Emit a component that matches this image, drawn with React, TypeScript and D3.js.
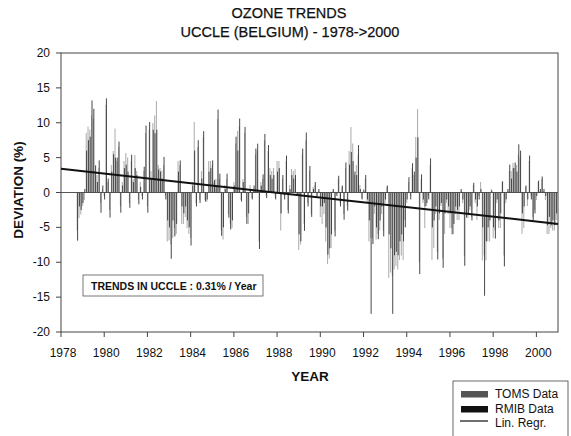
import React from 'react';
import * as d3 from 'd3';

// monthly deviations (%), first value = Oct 1978
const START = 1978.75;

const rmib = [
  -6.9, -2.0, -2.5,
  -1.5, 0.5, 6.0, 7.5, 8.0, 13.2, 12.0, 3.9, 1.5, 4.6, -2.9, 1.0,
  -1.0, 13.5, 2.0, -3.6, 3.0, 5.5, 5.0, 5.0, 7.3, -2.9, 1.0, 3.5,
  4.0, 3.0, -2.2, 5.4, 1.5, 3.5, 2.5, -1.7, 0.8, -1.0, 3.7, 9.6,
  -2.9, 10.1, 2.0, 9.0, 8.5, 9.0, 3.3, 3.0, 2.0, 5.1, -1.0, -4.0,
  -5.0, -9.5, -4.0, -6.3, -4.5, 3.0, 4.6, -2.0, -3.0, -2.0, -4.0, -5.0,
  -7.6, 1.0, 6.0, -2.0, 7.5, -1.5, 2.0, 8.8, -1.3, -1.0, 3.0, 3.5,
  4.6, 1.8, 1.0, 11.9, 2.7, -6.2, -5.0, 0.5, 2.7, -3.6, -5.3, -4.0,
  1.0, 8.0, 6.0, 10.6, -1.3, 1.5, 9.4, -4.5, -3.0, 0.5, -1.0, 1.0,
  6.3, 7.0, -8.1, 1.0, 2.6, 8.4, -0.8, 6.8, 2.5, 2.0, 2.5, -1.0,
  3.0, 3.5, -3.0, 2.5, -1.0, 5.3, -3.0, 0.5, 2.5, 2.0, 2.5, -0.5,
  -6.0, -7.0, 6.3, -5.5, 8.6, -2.0, 3.8, -3.5, 0.5, 1.5, -0.5, 0.5,
  -2.0, -2.0, -1.5, -5.0, -8.9, -8.0, -6.0, 0.5, -6.3, -0.5, 2.4, -2.0,
  1.0, -3.9, 4.3, -2.6, 4.0, 5.8, 4.5, 3.0, 2.5, 6.8, 0.5, -1.0,
  0.3, 2.5, -1.0, -4.0, -17.4, -7.4, -2.0, -5.0, -6.7, -4.0, -2.0, -6.3,
  -1.0, 1.0, -6.0, -8.0, -17.4, -9.0, -8.5, -9.0, -7.0, -6.0, -7.0, -5.0,
  -1.0, 2.2, -1.0, 4.2, 3.0, 5.0, 7.9, -11.7, 2.6, -1.0, -2.0, -1.5,
  -1.0, 4.9, -5.0, -4.0, -2.0, -9.6, -3.0, -1.5, -10.8, -3.0, -1.0, -2.0,
  -3.0, -6.0, -4.5, -2.0, -2.5, -2.0, 0.5, -1.0, -10.5, -3.6, -3.0, -2.0,
  -4.0, 1.4, -1.0, -2.0, -1.0, 0.5, -5.0, -14.8, -7.0, -5.0, -4.0, 0.3,
  -5.0, -6.6, -1.0, -4.0, -3.0, 1.6, -10.6, -1.0, 0.5, 4.0, 2.0, 3.5,
  4.3, 3.0, 6.9, 6.0, -3.0, -2.0, 1.0, -1.0, 5.3, -1.0, -4.0, -3.0,
  -0.5, 1.7, 0.5, 2.3, 0.5, -0.5, -4.7, -3.5, -4.7, -4.0, -4.7, -3.0,
];

const toms = [
  -5.5, -3.6, -3.2,
  -2.0, -1.0, 8.5, 9.5, 9.0, 11.0, 10.5, 3.0, 2.5, 3.5, -1.5, 0.5,
  -0.5, 12.5, 1.5, -2.5, 4.0, 6.0, 9.2, 4.5, 6.5, -2.0, 1.5, 4.5,
  5.6, 5.0, -1.5, 4.5, 2.0, 5.4, 3.0, -1.0, 1.5, -0.5, 3.0, 8.5,
  -2.0, 9.0, 3.0, 10.0, 11.0, 13.2, 4.0, 3.5, 3.2, 4.0, -0.5, -7.0,
  -6.9, -7.5, -6.5, -5.0, -6.0, 4.6, 4.0, -4.5, -4.5, -3.5, -5.0, -6.0,
  -6.5, 1.5, 10.1, -1.5, 6.5, -1.0, 3.0, 8.0, -1.0, -1.3, 4.6, 4.6,
  4.0, 1.5, 2.0, 10.5, 2.0, -5.5, -6.7, 1.0, 2.0, -3.0, -4.5, -5.0,
  1.5, 7.0, 8.8, 9.5, -1.0, 2.0, 8.5, -3.5, -4.5, 1.0, -0.8, 0.5,
  5.5, 6.0, -7.0, 1.5, 2.0, 7.5, -0.5, 6.0, 3.5, 3.0, 3.5, -0.8,
  4.6, 4.6, -5.5, 2.0, -0.5, 4.5, -2.5, 1.0, 3.4, 3.0, 3.4, -0.3,
  -8.3, -7.5, 5.5, -4.5, 7.5, -1.5, 3.0, -3.0, 0.8, 1.0, -0.8, 0.3,
  -3.5, -4.5, -3.0, -7.0, -10.2, -9.5, -8.0, 0.3, -5.5, -0.3, 2.0, -1.5,
  0.8, -3.0, 3.5, -2.0, 6.0, 9.4, 7.0, 2.5, 4.0, 5.5, 1.0, -0.8,
  0.5, 2.0, -1.5, -7.0, -6.5, -6.5, -3.0, -6.7, -6.0, -5.5, -3.0, -5.5,
  -1.5, 0.8, -12.2, -11.5, -12.0, -11.0, -10.5, -11.0, -9.6, -9.0, -9.6, -4.0,
  -1.5, 1.5, -0.5, 3.5, 2.5, 8.0, 12.0, -10.0, 2.0, -1.5, -5.0, -2.0,
  -0.5, 4.0, -9.6, -8.0, -3.0, -8.5, -4.0, -2.0, -9.5, -6.0, -1.5, -3.0,
  -5.0, -5.0, -6.0, -3.0, -4.0, -4.0, 0.3, -1.5, -9.0, -3.0, -3.6, -2.5,
  -3.5, 1.0, -1.5, -4.0, -0.5, 1.5, -9.8, -9.0, -9.8, -7.0, -7.0, 0.5,
  -6.6, -5.5, -1.5, -5.0, -5.0, 1.5, -9.0, -1.5, 0.3, 3.0, 3.0, 4.3,
  3.5, 4.0, 5.5, 5.0, -5.9, -5.0, 0.8, -2.0, 4.5, -0.5, -3.5, -2.5,
  -1.0, 1.5, 0.3, 2.0, 0.3, -1.0, -6.0, -6.0, -5.0, -5.5, -5.5, -4.0,
];

const yTicks = [-20, -15, -10, -5, 0, 5, 10, 15, 20];
const xTicks = [1978, 1980, 1982, 1984, 1986, 1988, 1990, 1992, 1994, 1996, 1998, 2000];

// linear regression end points
const regYears = [1978, 2001];
const regValues = [3.4, -4.5];

const legendLabels = ['TOMS Data', 'RMIB Data', 'Lin. Regr.'];
const trendText = 'TRENDS IN UCCLE : 0.31% / Year';

const FONT = '"Liberation Sans", Arial, sans-serif';

const App: React.FC = () => {
  const W = 571;
  const H = 436;
  const left = 61, right = 558, top = 53, bottom = 332;

  const x = d3.scaleLinear().domain([1978, 2001]).range([left, right]);
  const y = d3.scaleLinear().domain([-20, 20]).range([bottom, top]);

  const date = (i: number) => START + i / 12;
  const regLine = d3.line<number>()
    .x((_, i) => x(regYears[i]))
    .y(d => y(d));

  return (
    <svg width={W} height={H} style={{ position: 'absolute', left: 0, top: 0, background: '#fff' }}
      fontFamily={FONT}>
      {/* title */}
      <text x={289} y={18} textAnchor="middle" fontSize={14.5} fill="#111" stroke="#111" strokeWidth={0.25}>OZONE TRENDS</text>
      <text x={290} y={37} textAnchor="middle" fontSize={14.5} fill="#111" stroke="#111" strokeWidth={0.25}>UCCLE (BELGIUM) - 1978-&gt;2000</text>

      {/* frame */}
      <rect x={left} y={top} width={right - left} height={bottom - top} fill="none" stroke="#444" strokeWidth={1} />

      {/* zero line */}
      <line x1={left} x2={right} y1={y(0)} y2={y(0)} stroke="#555" strokeWidth={1} />

      {/* TOMS bars (dotted) */}
      {toms.map((v, i) => (
        <line key={'t' + i} x1={x(date(i))} x2={x(date(i))} y1={y(0)} y2={y(v)}
          stroke="#666" strokeWidth={1.1} strokeDasharray="1 1" />
      ))}
      {/* RMIB bars (solid) */}
      {rmib.map((v, i) => (
        <line key={'r' + i} x1={x(date(i)) + 0.4} x2={x(date(i)) + 0.4} y1={y(0)} y2={y(v)}
          stroke="#333" strokeWidth={0.9} />
      ))}

      {/* regression */}
      <path d={regLine(regValues) || ''} fill="none" stroke="#111" strokeWidth={2} />

      {/* y axis ticks */}
      {yTicks.map(t => (
        <g key={'y' + t}>
          <line x1={left - 5} x2={left} y1={y(t)} y2={y(t)} stroke="#444" />
          <text x={50} y={y(t) + 4} textAnchor="end" fontSize={12} fill="#111">{t}</text>
        </g>
      ))}
      {/* x axis ticks */}
      {xTicks.map(t => (
        <g key={'x' + t}>
          <line x1={x(t)} x2={x(t)} y1={bottom} y2={bottom + 5} stroke="#444" />
          <text x={x(t) + 2} y={357} textAnchor="middle" fontSize={12} fill="#111">{t}</text>
        </g>
      ))}

      {/* axis titles */}
      <text x={310} y={381} textAnchor="middle" fontSize={13.5} fontWeight="bold" fill="#111">YEAR</text>
      <text transform="translate(23,190) rotate(-90)" textAnchor="middle" fontSize={13.5} fontWeight="bold" fill="#111">DEVIATION (%)</text>

      {/* trend box */}
      <rect x={83} y={275} width={180} height={21} fill="#fff" stroke="#555" strokeWidth={0.8} />
      <text x={91} y={290} fontSize={10.5} fontWeight="bold" fill="#111">{trendText}</text>

      {/* legend */}
      <rect x={453} y={381} width={115} height={62} fill="#fff" stroke="#444" strokeWidth={0.8} />
      <rect x={461} y={391} width={27} height={6.5} fill="#555" />
      <rect x={461} y={406} width={27} height={6.5} fill="#111" />
      <line x1={460} x2={488} y1={421} y2={421} stroke="#111" strokeWidth={1.2} />
      {legendLabels.map((l, i) => (
        <text key={l} x={495} y={398 + i * 14.5} fontSize={12} fill="#111">{l}</text>
      ))}
    </svg>
  );
};

export default App;
